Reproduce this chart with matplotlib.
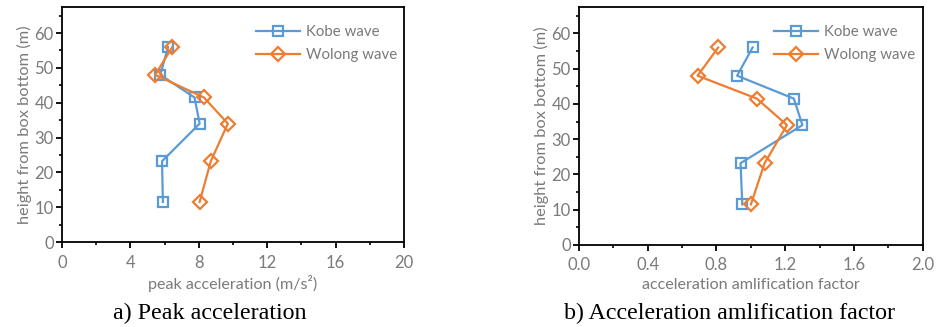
import matplotlib
matplotlib.use('Agg')
import matplotlib.pyplot as plt
from matplotlib.ticker import MultipleLocator, FormatStrFormatter

# ─── Data ────────────────────────────────────────────────────────────────────
heights = [56, 48, 41.5, 34, 23.2, 11.5]

kobe_peak   = [6.2, 5.75, 7.75, 8.05, 5.85, 5.9]
wolong_peak = [6.45, 5.45, 8.3, 9.7, 8.7, 8.05]

kobe_amp   = [1.01, 0.92, 1.25, 1.30, 0.94, 0.95]
wolong_amp = [0.81, 0.69, 1.035, 1.21, 1.08, 1.0]

series_names = ['Kobe wave', 'Wolong wave']

# ─── Style ───────────────────────────────────────────────────────────────────
BLUE = '#5B9BD5'
ORANGE = '#ED7D31'
TEXT_GREY = '#7a7a7a'
LABEL_FONT = ['Lato', 'DejaVu Sans']
CAPTION_FONT = ['Liberation Serif', 'DejaVu Serif']

plt.rcParams['font.family'] = LABEL_FONT

fig = plt.figure(figsize=(9.41, 3.27), dpi=100)
ax1 = fig.add_axes([0.0659, 0.2599, 0.3634, 0.7178])
ax2 = fig.add_axes([0.6153, 0.2508, 0.3653, 0.7269])


def style_axes(ax, xmax, xmajor, xminor, fmt):
    ax.set_xlim(0, xmax)
    ax.set_ylim(0, 67.4)
    ax.xaxis.set_major_locator(MultipleLocator(xmajor))
    ax.xaxis.set_minor_locator(MultipleLocator(xminor))
    ax.yaxis.set_major_locator(MultipleLocator(10))
    ax.yaxis.set_minor_locator(MultipleLocator(5))
    ax.xaxis.set_major_formatter(FormatStrFormatter(fmt))
    for spine in ax.spines.values():
        spine.set_color('black')
        spine.set_linewidth(1.3)
    ax.tick_params(which='major', direction='out', length=4, width=1.3,
                   colors='black', labelcolor=TEXT_GREY, labelsize=12)
    ax.tick_params(which='minor', direction='out', length=2.5, width=1.2,
                   colors='black')
    ax.tick_params(axis='x', pad=5)
    ax.tick_params(axis='y', pad=2)
    ax.set_ylabel('height from box bottom (m)', fontsize=11.8, color=TEXT_GREY,
                  labelpad=2)


def plot_pair(ax, kobe, wolong):
    ax.plot(kobe, heights, color=BLUE, lw=1.6, marker='s', ms=7,
            mfc='none', mec=BLUE, mew=1.6, label=series_names[0])
    ax.plot(wolong, heights, color=ORANGE, lw=1.6, marker='D', ms=7.5,
            mfc='none', mec=ORANGE, mew=1.6, label=series_names[1])
    ax.legend(loc='upper left', bbox_to_anchor=(0.55, 0.95), frameon=False,
              fontsize=10.8, labelcolor=TEXT_GREY, handlelength=2.9,
              handletextpad=0.4, labelspacing=0.6, borderaxespad=0)


# ── a) Peak acceleration ────────────────────────────────────────────────────
plot_pair(ax1, kobe_peak, wolong_peak)
style_axes(ax1, 20, 4, 2, '%d')
ax1.set_xlabel('peak acceleration (m/s²)', fontsize=11.6, color=TEXT_GREY,
               labelpad=3)

# ── b) Acceleration amplification factor ────────────────────────────────────
plot_pair(ax2, kobe_amp, wolong_amp)
style_axes(ax2, 2.0, 0.4, 0.2, '%.1f')
ax2.set_xlabel('acceleration amlification factor', fontsize=11.6,
               color=TEXT_GREY, labelpad=3)

# ── Captions ────────────────────────────────────────────────────────────────
fig.text(210 / 941, 1 - 313 / 327, 'a) Peak acceleration', fontsize=17.3,
         family=CAPTION_FONT, ha='center', va='center', color='black')
fig.text(729 / 941, 1 - 313 / 327, 'b) Acceleration amlification factor',
         fontsize=17.3, family=CAPTION_FONT, ha='center', va='center',
         color='black')

fig.savefig('out.png', dpi=100, facecolor='white')
